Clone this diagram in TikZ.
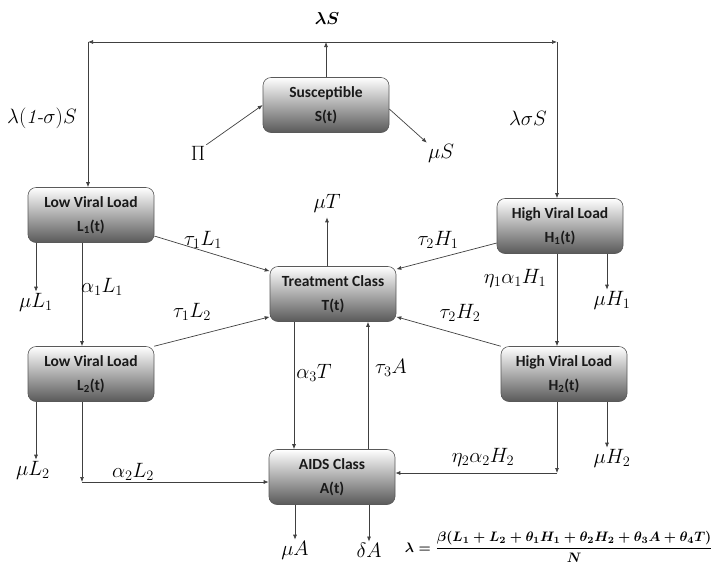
\documentclass[tikz,border=0pt]{standalone}
\usepackage{amsmath}
\usepackage{fontspec}
\newfontfamily\boxfont{Carlito}
\usetikzlibrary{arrows.meta}

\tikzset{
  compartment/.style={draw=black!65, line width=0.6pt, rounded corners=8pt,
    minimum width=126pt, minimum height=55pt,
    top color=white, middle color=black!10, bottom color=black!65,
    align=center, text=black!90,
    font=\boxfont\bfseries\fontsize{15.5}{24}\selectfont},
  link/.style={draw=black!75, line width=0.7pt},
  flow/.style={link, -{Latex[length=5pt,width=4pt]}},
  twoway/.style={link, {Latex[length=5pt,width=4pt]}-{Latex[length=5pt,width=4pt]}},
  ratelbl/.style={font=\fontsize{20}{22}\selectfont, inner sep=1pt},
  toplbl/.style={font=\fontsize{18}{20}\selectfont\boldmath, inner sep=1pt},
}

\begin{document}
\begin{tikzpicture}[x=1pt,y=-1pt]
\useasboundingbox (0,0) rectangle (714,566);

% compartments
\node[compartment] (S)  at (326,105) {Susceptible\\S(t)};
\node[compartment] (L1) at (91,215)  {Low Viral Load\\L\textsubscript{1}(t)};
\node[compartment] (H1) at (560,226) {High Viral Load\\H\textsubscript{1}(t)};
\node[compartment] (T)  at (333,294) {Treatment Class\\T(t)};
\node[compartment] (L2) at (91,374)  {Low Viral Load\\L\textsubscript{2}(t)};
\node[compartment] (H2) at (564,374) {High Viral Load\\H\textsubscript{2}(t)};
\node[compartment] (A)  at (332,477) {AIDS Class\\A(t)};

% infection branch from S
\coordinate (tl) at (88,42);
\coordinate (tr) at (557,42);
\node[toplbl] (lamS) at (327,18) {$\lambda S$};
\draw[flow] (S.north) -- (S.north |- tl);
\draw[twoway] (tl) -- (tr);
\draw[flow] (tl) -- (tl |- L1.north);
\draw[flow] (tr) -- (tr |- H1.north);
\node[ratelbl] (lamL) at (42,118) {$\lambda(\mathit{1}\textit{-}\sigma)S$};
\node[ratelbl] (lamH) at (528,118) {$\lambda\sigma S$};

% recruitment and natural death of S
\node[ratelbl] (pi)  at (198,153) {$\Pi$};
\node[ratelbl] (muS) at (441,153) {$\mu S$};
\draw[flow] (pi.north east) -- (S.west);
\draw[flow] ([yshift=-4pt]S.east) -- (muS.north west);

% treatment inflows
\draw[flow] ([yshift=-21pt]L1.east) -- ([yshift=-5pt]T.north west);
\node[ratelbl] (t1L1) at (203,240) {$\tau_1L_1$};
\draw[flow] ([yshift=-17pt]H1.west) -- ([yshift=-3pt]T.north east);
\node[ratelbl] (t2H1) at (438,240) {$\tau_2H_1$};
\draw[flow] (L2.north east) -- ([yshift=5pt]T.south west);
\node[ratelbl] (t1L2) at (192,312) {$\tau_1L_2$};
\draw[flow] (H2.north west) -- ([yshift=5pt]T.south east);
\node[ratelbl] (t2H2) at (460,313) {$\tau_2H_2$};

% T outflow and exchange with A
\node[ratelbl] (muT) at (327,203) {$\mu T$};
\draw[flow, shorten >=4pt] ([xshift=-6pt]T.north) -- (muT.south);
\draw[flow] ([xshift=-39pt]T.south) -- ([xshift=-39pt]T.south |- A.north);
\node[ratelbl] (a3T) at (314,373) {$\alpha_3T$};
\draw[flow] ([xshift=36pt]A.north) -- ([xshift=36pt]A.north |- T.south);
\node[ratelbl] (t3A) at (391,368) {$\tau_3A$};

% low viral load branch
\draw[flow] ([xshift=-9pt]L1.south) -- ([xshift=-9pt]L1.south |- L2.north);
\node[ratelbl] (a1L1) at (102,287) {$\alpha_1L_1$};
\node[ratelbl] (muL1) at (36,302) {$\mu L_1$};
\draw[flow] ([xshift=-55pt]L1.south) -- ([xshift=-55pt]L1.south |- muL1.north);
\node[ratelbl] (muL2) at (33,470) {$\mu L_2$};
\draw[flow] ([xshift=-55pt]L2.south) -- ([xshift=-55pt]L2.south |- muL2.north);
\coordinate (cl) at (82,482);
\draw[flow] ([xshift=-9pt]L2.south) -- (cl);
\draw[flow] (cl) -- (cl -| A.west);
\node[ratelbl] (a2L2) at (133,472) {$\alpha_2L_2$};

% high viral load branch
\draw[flow] ([xshift=-3pt]H1.south) -- ([xshift=-3pt]H1.south |- H2.north);
\node[ratelbl] (e1a1H1) at (515,278) {$\eta_1\alpha_1H_1$};
\node[ratelbl] (muH1) at (612,300) {$\mu H_1$};
\draw[flow] ([xshift=47pt]H1.south) -- ([xshift=47pt]H1.south |- muH1.north);
\node[ratelbl] (muH2) at (612,458) {$\mu H_2$};
\draw[flow] ([xshift=43pt]H2.south) -- ([xshift=43pt]H2.south |- muH2.north);
\coordinate (cr) at (557,473);
\draw[flow] ([xshift=-7pt]H2.south) -- (cr);
\draw[flow] (cr) -- (cr -| A.east);
\node[ratelbl] (e2a2H2) at (483,457) {$\eta_2\alpha_2H_2$};

% AIDS class outflows
\node[ratelbl] (muA) at (295,550) {$\mu A$};
\node[ratelbl] (dA)  at (369,550) {$\delta A$};
\draw[flow] ([xshift=-37pt]A.south) -- ([xshift=-37pt]A.south |- muA.north);
\draw[flow] ([xshift=37pt]A.south) -- ([xshift=37pt]A.south |- dA.north);

% force of infection
\node[inner sep=0pt] (force) at (559,547)
  {\resizebox{308pt}{!}{\boldmath$\lambda=\dfrac{\beta(L_1+L_2+\theta_1H_1+\theta_2H_2+\theta_3A+\theta_4T)}{N}$}};
\end{tikzpicture}
\end{document}
